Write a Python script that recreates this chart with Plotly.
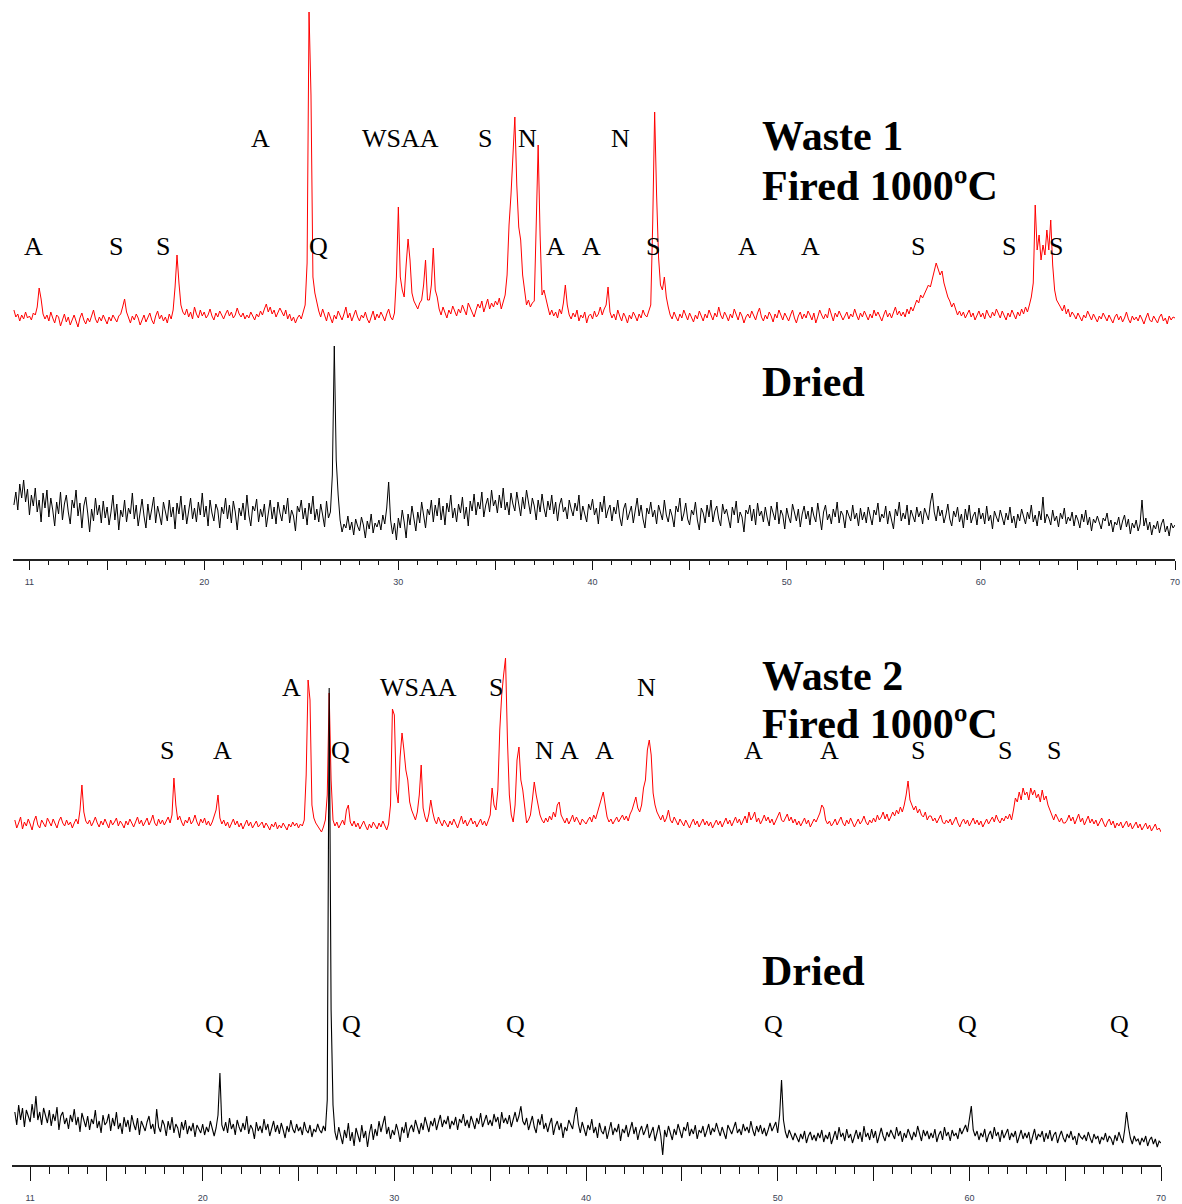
import numpy as np
import plotly.graph_objects as go

# 2-theta scan grid (degrees), 0.1 deg step
two_theta = np.round(10.2 + 0.1 * np.arange(599), 1)

# Waste 1, fired at 1000 C (counts)
waste1_fired = [
    35, 28, 31, 24, 30, 26, 33, 27,
    29, 25, 32, 30, 38, 57, 46, 31, 26, 30,
    24, 33, 27, 22, 30, 28, 19, 26, 31, 23,
    28, 20, 25, 30, 24, 18, 27, 32, 25, 21,
    27, 23, 29, 35, 26, 22, 28, 24, 30, 25,
    21, 28, 24, 30, 26, 23, 29, 31, 38, 46,
    33, 27, 22, 29, 25, 31, 27, 20, 26, 30,
    23, 28, 32, 25, 21, 29, 34, 26, 30, 24,
    28, 22, 31, 26, 35, 58, 90, 62, 40, 33,
    30, 36, 28, 33, 26, 38, 31, 27, 35, 29,
    33, 27, 30, 36, 29, 25, 32, 28, 34, 30,
    26, 31, 35, 29, 33, 27, 30, 37, 31, 28,
    32, 26, 30, 27, 33, 29, 25, 31, 28, 34,
    30, 36, 41, 33, 38, 31, 35, 28, 32, 37,
    33, 29, 35, 26, 31, 24, 28, 22, 27, 30,
    26, 33, 40, 82, 333, 250, 68, 52, 42, 34,
    28, 36, 30, 24, 33, 27, 22, 30, 26, 34,
    29, 25, 31, 38, 27, 32, 24, 29, 35, 28,
    24, 30, 27, 33, 26, 22, 29, 34, 25, 31,
    27, 33, 29, 24, 31, 36, 28, 25, 32, 68,
    138, 68, 55, 48, 80, 106, 85, 52, 44, 40,
    36, 42, 45, 60, 85, 45, 45, 60, 97, 55,
    48, 36, 30, 38, 33, 27, 35, 31, 39, 34,
    29, 36, 32, 40, 35, 30, 42, 37, 33, 28,
    35, 41, 37, 44, 33, 39, 46, 36, 42, 38,
    44, 40, 47, 36, 42, 50, 70, 120, 150, 195,
    228, 160, 118, 105, 70, 55, 40, 45, 38, 42,
    44, 120, 200, 110, 50, 55, 45, 38, 30, 35,
    29, 33, 27, 36, 31, 42, 60, 40, 30, 26,
    32, 28, 35, 24, 30, 27, 33, 22, 29, 31,
    26, 34, 28, 31, 38, 30, 36, 40, 58, 33,
    27, 31, 25, 35, 29, 24, 32, 28, 22, 30,
    26, 33, 29, 24, 31, 27, 35, 30, 28, 34,
    40, 122, 233, 150, 88, 60, 55, 68, 48, 38,
    30, 26, 33, 28, 24, 31, 27, 35, 29, 25,
    32, 27, 23, 30, 26, 34, 28, 24, 31, 27,
    35, 29, 25, 32, 28, 38, 30, 26, 33, 29,
    24, 31, 27, 36, 30, 25, 33, 29, 22, 28,
    31, 27, 34, 29, 25, 32, 37, 28, 24, 30,
    26, 33, 29, 23, 31, 27, 35, 30, 25, 32,
    28, 24, 30, 35, 27, 22, 29, 33, 26, 31,
    27, 34, 30, 25, 32, 22, 28, 35, 30, 26,
    31, 27, 37, 29, 24, 32, 28, 34, 30, 25,
    29, 33, 26, 31, 28, 36, 30, 25, 32, 28,
    34, 29, 25, 31, 27, 35, 29, 33, 28, 24,
    30, 35, 28, 32, 27, 33, 38, 30, 34, 29,
    33, 28, 36, 31, 38, 34, 40, 45, 42, 50,
    47, 52, 55, 60, 58, 66, 72, 82, 76, 70,
    74, 62, 55, 48, 44, 38, 42, 35, 30, 34,
    29, 33, 27, 31, 35, 28, 32, 25, 30, 34,
    28, 32, 26, 35, 30, 27, 33, 29, 36, 31,
    27, 34, 29, 25, 32, 28, 35, 30, 26, 33,
    29, 36, 31, 38, 33, 40, 48, 62, 140, 95,
    110, 85, 100, 90, 115, 95, 125, 80, 55, 45,
    42, 38, 34, 40, 31, 36, 28, 33, 30, 26,
    32, 28, 24, 30, 27, 34, 29, 25, 31, 27,
    23, 29, 26, 32, 28, 24, 30, 26, 22, 28,
    31, 25, 29, 23, 27, 33, 26, 22, 29, 25,
    28, 24, 30, 26, 21, 27, 32, 25, 23, 29,
    26, 22, 28, 31, 24, 27, 21, 29, 25, 28,
    27,
]

# Waste 1, dried (counts)
waste1_dried = [
    45, 58, 40, 66, 52, 70, 48, 61,
    35, 55, 44, 62, 38, 50, 28, 57, 42, 60,
    33, 52, 40, 24, 48, 36, 58, 30, 46, 55,
    38, 26, 50, 42, 60, 34, 47, 22, 44, 53,
    37, 18, 41, 29, 52, 35, 45, 27, 49, 32,
    43, 25, 38, 55, 30, 46, 20, 40, 33, 50,
    28, 42, 36, 57, 31, 45, 24, 39, 51, 34,
    22, 46, 30, 41, 53, 27, 44, 35, 25, 48,
    38, 29, 50, 33, 43, 21, 47, 36, 54, 30,
    45, 26, 39, 52, 31, 42, 28, 48, 35, 57,
    33, 44, 24, 50, 37, 29, 46, 40, 22, 43,
    36, 52, 31, 45, 27, 49, 38, 20, 42, 34,
    47, 30, 55, 35, 24, 44, 39, 51, 28, 41,
    33, 46, 23, 38, 50, 31, 43, 26, 48, 37,
    29, 45, 36, 52, 27, 40, 34, 19, 44, 38,
    50, 31, 42, 25, 47, 36, 54, 30, 41, 28,
    46, 35, 23, 49, 32, 38, 75, 204, 90, 55,
    30, 18, 26, 22, 34, 20, 28, 15, 31, 24,
    19, 33, 25, 12, 29, 21, 36, 17, 27, 23,
    30, 20, 35, 26, 42, 68, 30, 16, 27, 10,
    32, 22, 40, 28, 12, 36, 25, 44, 30, 19,
    38, 27, 48, 33, 22, 41, 35, 50, 28, 45,
    34, 52, 30, 44, 25, 47, 38, 55, 32, 42,
    28, 46, 37, 53, 31, 43, 24, 49, 39, 56,
    35, 48, 41, 58, 33, 45, 52, 38, 60, 44,
    50, 37, 55, 42, 62, 40, 48, 35, 57, 46,
    39, 58, 45, 34, 53, 41, 60, 47, 36, 52,
    44, 30, 50, 38, 56, 42, 33, 49, 40, 55,
    36, 48, 29, 45, 52, 38, 43, 31, 50, 41,
    34, 47, 39, 55, 30, 44, 37, 28, 46, 40,
    51, 35, 42, 26, 48, 38, 54, 32, 40, 45,
    29, 43, 36, 50, 33, 24, 41, 47, 30, 38,
    44, 27, 39, 52, 34, 45, 31, 22, 42, 36,
    48, 33, 40, 26, 45, 37, 30, 50, 35, 28,
    41, 34, 23, 44, 38, 52, 29, 36, 47, 31,
    25, 40, 35, 48, 30, 20, 42, 37, 27, 45,
    33, 50, 28, 39, 44, 31, 24, 46, 36, 41,
    30, 22, 43, 35, 49, 27, 38, 33, 18, 40,
    36, 45, 29, 41, 25, 47, 34, 39, 28, 43,
    32, 24, 44, 37, 30, 48, 26, 40, 35, 21,
    42, 33, 27, 46, 38, 29, 41, 23, 36, 44,
    31, 39, 25, 43, 34, 28, 47, 32, 20, 38,
    45, 30, 36, 26, 41, 33, 48, 27, 39, 35,
    22, 40, 34, 29, 45, 31, 37, 24, 42, 30,
    38, 27, 43, 33, 25, 40, 35, 47, 28, 36,
    32, 44, 26, 39, 30, 21, 41, 34, 48, 29,
    37, 31, 45, 25, 40, 35, 28, 43, 33, 39,
    26, 42, 36, 30, 47, 57, 38, 29, 44, 34,
    40, 27, 35, 46, 31, 24, 39, 33, 43, 28,
    36, 22, 41, 30, 45, 27, 34, 38, 25, 42,
    31, 37, 26, 44, 29, 35, 21, 39, 33, 28,
    40, 32, 25, 37, 30, 43, 27, 34, 22, 36,
    29, 41, 33, 26, 38, 31, 45, 28, 35, 24,
    39, 30, 53, 27, 36, 32, 25, 40, 29, 34,
    23, 37, 31, 42, 26, 33, 29, 38, 24, 35,
    30, 22, 36, 28, 40, 25, 33, 19, 31, 27,
    34, 26, 21, 32, 29, 37, 24, 30, 18, 28,
    25, 33, 20, 29, 35, 23, 31, 16, 27, 22,
    30, 19, 26, 50, 24, 32, 20, 28, 15, 25,
    21, 29, 17, 26, 31, 18, 24, 14, 27, 22,
    25,
]

# Waste 2, fired at 1000 C (counts)
waste2_fired = [
    30, 22, 27, 33, 21, 28, 24, 31,
    26, 20, 29, 34, 25, 22, 30, 27, 23, 32,
    28, 24, 31, 26, 22, 29, 33, 27, 24, 30,
    25, 28, 22, 27, 31, 26, 40, 65, 38, 29,
    26, 30, 24, 28, 33, 27, 23, 29, 25, 31,
    27, 22, 30, 25, 28, 32, 24, 29, 26, 22,
    29, 25, 31, 27, 23, 28, 33, 26, 30, 24,
    28, 32, 25, 29, 35, 27, 24, 31, 26, 30,
    25, 29, 33, 27, 35, 72, 45, 30, 34, 28,
    24, 30, 27, 33, 26, 29, 35, 28, 24, 31,
    27, 32, 25, 29, 24, 28, 33, 40, 55, 32,
    26, 30, 24, 28, 22, 27, 31, 25, 29, 23,
    27, 21, 25, 30, 24, 28, 22, 26, 29, 23,
    25, 28, 22, 27, 24, 20, 26, 23, 28, 21,
    25, 22, 27, 24, 20, 26, 23, 28, 24, 27,
    22, 26, 24, 30, 75, 170, 150, 45, 32, 27,
    24, 20, 18, 23, 30, 55, 157, 70, 30, 24,
    28, 22, 26, 30, 25, 40, 45, 28, 24, 29,
    23, 27, 21, 25, 29, 24, 20, 26, 22, 28,
    25, 21, 27, 23, 29, 24, 20, 26, 45, 141,
    135, 60, 47, 93, 117, 100, 80, 70, 48, 40,
    35, 30, 38, 55, 85, 42, 33, 28, 36, 50,
    38, 30, 26, 33, 28, 24, 30, 27, 23, 29,
    25, 31, 27, 22, 28, 34, 26, 30, 24, 28,
    32, 26, 29, 23, 27, 31, 25, 29, 24, 30,
    35, 62, 45, 40, 60, 120, 155, 175, 192, 110,
    55, 35, 28, 45, 90, 103, 70, 60, 40, 27,
    30, 35, 50, 68, 55, 43, 35, 30, 27, 32,
    28, 34, 30, 38, 33, 45, 48, 35, 30, 27,
    32, 26, 30, 35, 28, 33, 29, 25, 31, 28,
    26, 30, 33, 28, 35, 31, 38, 45, 52, 58,
    45, 33, 28, 31, 26, 29, 33, 28, 32, 35,
    30, 34, 29, 36, 40, 48, 53, 42, 38, 45,
    62, 70, 100, 110, 95, 57, 45, 38, 33, 30,
    35, 28, 32, 40, 30, 27, 33, 29, 25, 31,
    28, 24, 30, 26, 22, 27, 31, 25, 29, 23,
    27, 31, 25, 29, 24, 28, 22, 26, 30, 25,
    29, 23, 27, 32, 26, 30, 24, 28, 33, 27,
    31, 25, 29, 34, 27, 38, 30, 33, 38, 28,
    32, 26, 30, 35, 29, 33, 27, 31, 25, 29,
    34, 38, 30, 28, 32, 36, 29, 33, 27, 31,
    25, 29, 24, 28, 32, 26, 30, 23, 27, 31,
    28, 33, 37, 45, 42, 30, 26, 29, 24, 27,
    31, 25, 29, 33, 27, 24, 30, 26, 32, 28,
    23, 27, 31, 26, 29, 34, 28, 25, 30, 27,
    32, 28, 35, 30, 33, 38, 31, 36, 29, 33,
    38, 34, 40, 36, 43, 38, 45, 55, 69, 50,
    45, 40, 44, 37, 41, 35, 33, 38, 30, 34,
    34, 29, 32, 27, 31, 35, 28, 26, 30, 27,
    31, 25, 29, 33, 27, 23, 28, 31, 26, 30,
    24, 28, 32, 26, 30, 25, 29, 23, 27, 31,
    26, 29, 33, 28, 35, 30, 27, 32, 29, 34,
    31, 36, 30, 40, 52, 48, 58, 50, 62, 55,
    58, 50, 62, 55, 60, 52, 56, 48, 60, 50,
    54, 45, 40, 33, 30, 36, 31, 28, 32, 27,
    27, 30, 35, 29, 33, 26, 31, 36, 28, 32,
    25, 29, 34, 27, 31, 26, 30, 24, 28, 32,
    27, 23, 28, 31, 25, 29, 22, 27, 24, 28,
    22, 26, 29, 23, 27, 21, 25, 28, 22, 26,
    20, 24, 27, 21, 25, 19, 23, 26, 20, 22,
    18,
]

# Waste 2, dried (counts)
waste2_dried = [
    48, 35, 55, 40, 52, 33, 50, 45,
    38, 56, 42, 64, 40, 48, 35, 52, 44, 37,
    50, 34, 46, 39, 53, 30, 44, 48, 36, 42,
    31, 45, 38, 51, 35, 43, 28, 47, 40, 33,
    44, 30, 41, 36, 50, 32, 39, 27, 45, 35,
    38, 46, 29, 42, 34, 48, 31, 37, 26, 43,
    33, 40, 28, 45, 36, 30, 42, 25, 39, 34,
    29, 38, 44, 31, 36, 26, 51, 33, 28, 40,
    35, 24, 39, 30, 43, 27, 36, 32, 22, 38,
    30, 40, 26, 34, 29, 37, 23, 35, 31, 27,
    36, 25, 33, 28, 39, 30, 24, 32, 45, 87,
    35, 29, 38, 27, 42, 31, 36, 25, 40, 33,
    28, 37, 30, 44, 26, 35, 31, 21, 38, 29,
    34, 27, 41, 30, 36, 24, 33, 39, 28, 35,
    26, 37, 30, 22, 34, 28, 40, 31, 27, 36,
    29, 33, 25, 38, 30, 27, 35, 23, 31, 28,
    36, 30, 27, 34, 29, 60, 472, 150, 55, 28,
    20, 33, 24, 16, 30, 22, 37, 19, 28, 14,
    32, 25, 18, 35, 22, 29, 13, 27, 36, 20,
    31, 24, 39, 28, 35, 44, 26, 33, 21, 30,
    25, 36, 29, 18, 33, 27, 38, 22, 31, 35,
    28, 40, 33, 26, 37, 30, 43, 35, 28, 39,
    34, 42, 30, 38, 45, 33, 40, 36, 44, 31,
    39, 35, 43, 30, 41, 37, 46, 34, 40, 32,
    44, 38, 31, 42, 36, 47, 33, 39, 45, 35,
    40, 34, 46, 38, 43, 31, 48, 37, 42, 36,
    45, 33, 40, 48, 38, 44, 54, 39, 35, 42,
    30, 38, 44, 33, 27, 41, 35, 46, 31, 37,
    28, 36, 42, 25, 34, 39, 30, 37, 22, 33,
    29, 40, 35, 31, 44, 53, 36, 27, 38, 32,
    24, 35, 30, 41, 27, 33, 22, 37, 29, 26,
    34, 21, 30, 38, 25, 32, 28, 36, 19, 31,
    27, 35, 23, 31, 38, 26, 33, 20, 29, 34,
    25, 30, 36, 22, 28, 33, 19, 27, 35, 24,
    5, 30, 23, 34, 27, 20, 31, 25, 36, 28,
    22, 33, 29, 38, 24, 31, 26, 35, 21, 30,
    27, 34, 23, 29, 36, 25, 32, 28, 37, 30,
    24, 33, 28, 21, 35, 30, 26, 32, 38, 27,
    31, 25, 36, 29, 33, 27, 39, 30, 24, 34,
    28, 35, 26, 32, 24, 30, 37, 29, 33, 38,
    27, 45, 80, 40, 28, 22, 30, 25, 20, 27,
    23, 18, 26, 21, 29, 17, 24, 28, 20, 25,
    19, 27, 22, 30, 18, 25, 21, 28, 16, 24,
    29, 20, 33, 23, 27, 19, 31, 22, 26, 17,
    25, 30, 21, 28, 18, 34, 23, 27, 20, 31,
    22, 29, 17, 26, 32, 24, 19, 28, 23, 30,
    26, 21, 33, 24, 29, 18, 27, 22, 31, 25,
    20, 28, 23, 34, 26, 19, 30, 24, 29, 21,
    27, 22, 31, 18, 25, 29, 20, 33, 24, 28,
    19, 30, 24, 27, 21, 32, 26, 30, 35, 28,
    40, 54, 30, 24, 29, 20, 27, 23, 31, 18,
    25, 29, 21, 33, 24, 28, 18, 30, 22, 26,
    31, 20, 27, 23, 29, 17, 25, 30, 21, 27,
    22, 28, 16, 25, 31, 20, 26, 23, 29, 18,
    27, 21, 30, 19, 25, 28, 17, 24, 29, 22,
    18, 26, 22, 29, 20, 24, 15, 27, 23, 21,
    25, 19, 28, 22, 17, 26, 21, 24, 16, 23,
    20, 27, 18, 24, 21, 15, 25, 19, 28, 22,
    17, 30, 48, 33, 22, 16, 24, 19, 21, 15,
    22, 18, 24, 14, 20, 23, 16, 21, 13, 19,
    17,
]

# Axis tick labels
tick_values = [11, 15, 20, 25, 30, 35, 40, 45, 50, 55, 60, 65, 70]
tick_labels = ["11", "", "20", "", "30", "", "40", "", "50", "", "60", "", "70"]

# Phase markers: (letter, x px, y px)
phase_labels = [
    ("A", 262, 138), ("WSAA", 402, 138), ("S", 487, 138), ("N", 530, 138), ("N", 623, 138),
    ("A", 34, 247), ("S", 116, 247), ("S", 164, 247), ("Q", 320, 247), ("A", 558, 247),
    ("A", 594, 247), ("S", 656, 247), ("A", 751, 247), ("A", 814, 247), ("S", 922, 247),
    ("S", 1013, 247), ("S", 1060, 247),
    ("A", 293, 687), ("WSAA", 420, 687), ("S", 498, 687), ("N", 649, 687),
    ("S", 168, 751), ("A", 223, 751), ("Q", 342, 751), ("N", 547, 751), ("A", 572, 751),
    ("A", 607, 751), ("A", 757, 751), ("A", 833, 751), ("S", 922, 751), ("S", 1009, 751),
    ("S", 1058, 751),
    ("Q", 215, 1024), ("Q", 353, 1024), ("Q", 518, 1024), ("Q", 777, 1024),
    ("Q", 972, 1024), ("Q", 1124, 1024),
]
panel_titles = [
    ("Waste 1", 136), ("Fired 1000ºC", 186), ("Dried", 382),
    ("Waste 2", 676), ("Fired 1000ºC", 724), ("Dried", 971),
]

W, H = 1182, 1204


def fx(px):
    return px / W


def fy(py):
    return 1 - py / H


assert len(waste1_fired) == len(waste1_dried) == len(waste2_fired) == len(waste2_dried) == len(two_theta)

fig = go.Figure()
fig.add_trace(go.Scatter(x=two_theta, y=waste1_fired, xaxis="x", yaxis="y",
                         mode="lines", line=dict(color="#ff0000", width=1), cliponaxis=False))
fig.add_trace(go.Scatter(x=two_theta, y=waste1_dried, xaxis="x", yaxis="y2",
                         mode="lines", line=dict(color="#000000", width=1), cliponaxis=False))
fig.add_trace(go.Scatter(x=two_theta, y=waste2_fired, xaxis="x2", yaxis="y3",
                         mode="lines", line=dict(color="#ff0000", width=1), cliponaxis=False))
fig.add_trace(go.Scatter(x=two_theta, y=waste2_dried, xaxis="x2", yaxis="y4",
                         mode="lines", line=dict(color="#000000", width=1.1), cliponaxis=False))


def x_axis(domain, rng, pos, ticklen, minorlen, standoff):
    return dict(
        domain=domain, range=rng, anchor="free", position=pos,
        showgrid=False, zeroline=False, showline=True, linecolor="#222", linewidth=2,
        ticks="outside", ticklen=ticklen, tickwidth=1.3, tickcolor="#111",
        tickmode="array", tickvals=tick_values, ticktext=tick_labels,
        tickfont=dict(family="Liberation Sans, Arial", size=9, color="#3a3f55"),
        ticklabelstandoff=standoff,
        minor=dict(tickmode="linear", tick0=10, dtick=1, ticks="outside",
                   ticklen=minorlen, tickwidth=1, tickcolor="#111", showgrid=False),
    )


def y_axis(bottom_px, top_px, rng, anchor):
    return dict(domain=[fy(bottom_px), fy(top_px)], range=rng, anchor=anchor,
                visible=False, showgrid=False, zeroline=False, fixedrange=True)


annotations = []
for text, px, py in phase_labels:
    annotations.append(dict(
        text=text, x=fx(px), y=fy(py), xref="paper", yref="paper",
        xanchor="center", yanchor="middle", showarrow=False,
        font=dict(family="Liberation Serif, Times New Roman", size=26, color="#000")))
for text, py in panel_titles:
    annotations.append(dict(
        text="<b>%s</b>" % text, x=fx(763), y=fy(py), xref="paper", yref="paper",
        xanchor="left", yanchor="middle", showarrow=False,
        font=dict(family="Liberation Serif, Times New Roman", size=42, color="#000")))

fig.update_layout(
    width=W, height=H,
    margin=dict(l=0, r=0, t=0, b=0),
    paper_bgcolor="white", plot_bgcolor="rgba(0,0,0,0)",
    showlegend=False,
    xaxis=x_axis([fx(13), fx(1180)], [10.15, 70], fy(560), 9, 4, 4),
    xaxis2=x_axis([fx(12), fx(1166)], [10.05, 70], fy(1166), 14, 7, 9),
    yaxis=y_axis(345, 0, [0, 345], "x"),
    yaxis2=y_axis(550, 300, [0, 250], "x"),
    yaxis3=y_axis(850, 640, [0, 210], "x2"),
    yaxis4=y_axis(1160, 680, [0, 480], "x2"),
    annotations=annotations,
)

fig.write_html("out.html")
